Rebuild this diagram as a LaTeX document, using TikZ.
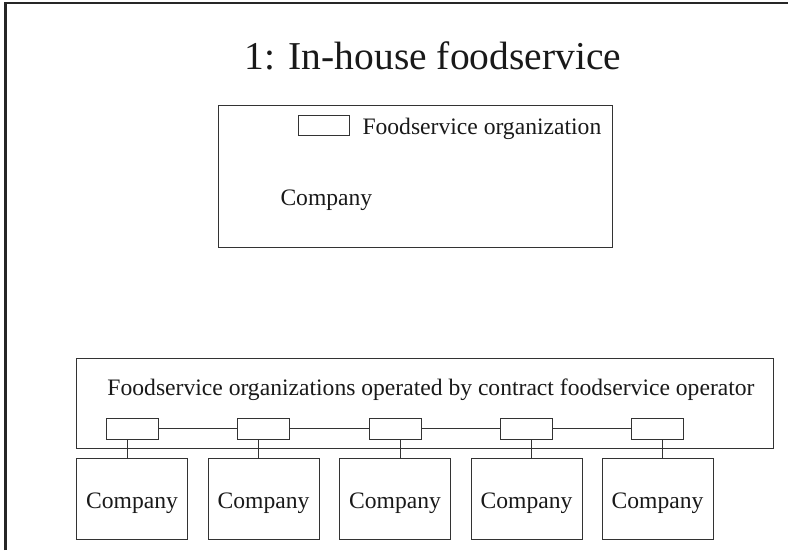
\documentclass[tikz,border=0pt]{standalone}
\usepackage{fontspec}
\setmainfont{Liberation Serif}
\usetikzlibrary{positioning}

\begin{document}
\begin{tikzpicture}[x=1pt,y=-1pt,line width=1pt,color=black!80,
  box/.style={draw,rectangle,inner sep=0pt},
  txt/.style={inner sep=0pt,text=black!90,font=\fontsize{23.6}{28}\selectfont}]
\useasboundingbox (0,0) rectangle (788,550);
\draw[line width=2.5pt,color=black!85] (5.3,550)--(5.3,2.8)--(788,2.8);
\node[inner sep=0pt,text=black!90,anchor=base,font=\fontsize{39.5}{44}\selectfont] (title) at (433,69) {1: In-house foodservice};

% in-house
\node[box,minimum width=394,minimum height=142] (inhouse) at (415,176) {};
\node[box,minimum width=51,minimum height=20] (legend) at (323.5,125) {};
\node[txt,anchor=base west] (legendtxt) at (362,134) {Foodservice organization};
\node[txt,anchor=base west] (inhousetxt) at (280,205) {Company};

% contract operator
\node[box,minimum width=697,minimum height=90] (operator) at (424.5,403) {};
\node[txt,anchor=base] (operatortxt) at (431,395) {Foodservice organizations operated by contract foodservice operator};
\foreach \i/\xc/\xo in {1/132/-5,2/263.5/-5.5,3/395/5,4/526.5/4.5,5/657.5/4.5}{
  \node[box,minimum width=52,minimum height=21] (fs\i) at (\xc,428.5) {};
  \node[box,txt,minimum width=111,minimum height=81,text height=19pt,text depth=0pt] (co\i) at (\xc,498.5) {Company};
  \draw ([xshift=\xo]fs\i.south) -- ([xshift=\xo]fs\i.south |- co\i.north);
}
\foreach \i/\j in {1/2,2/3,3/4,4/5}
  \draw (fs\i) -- (fs\j);
\end{tikzpicture}
\end{document}
